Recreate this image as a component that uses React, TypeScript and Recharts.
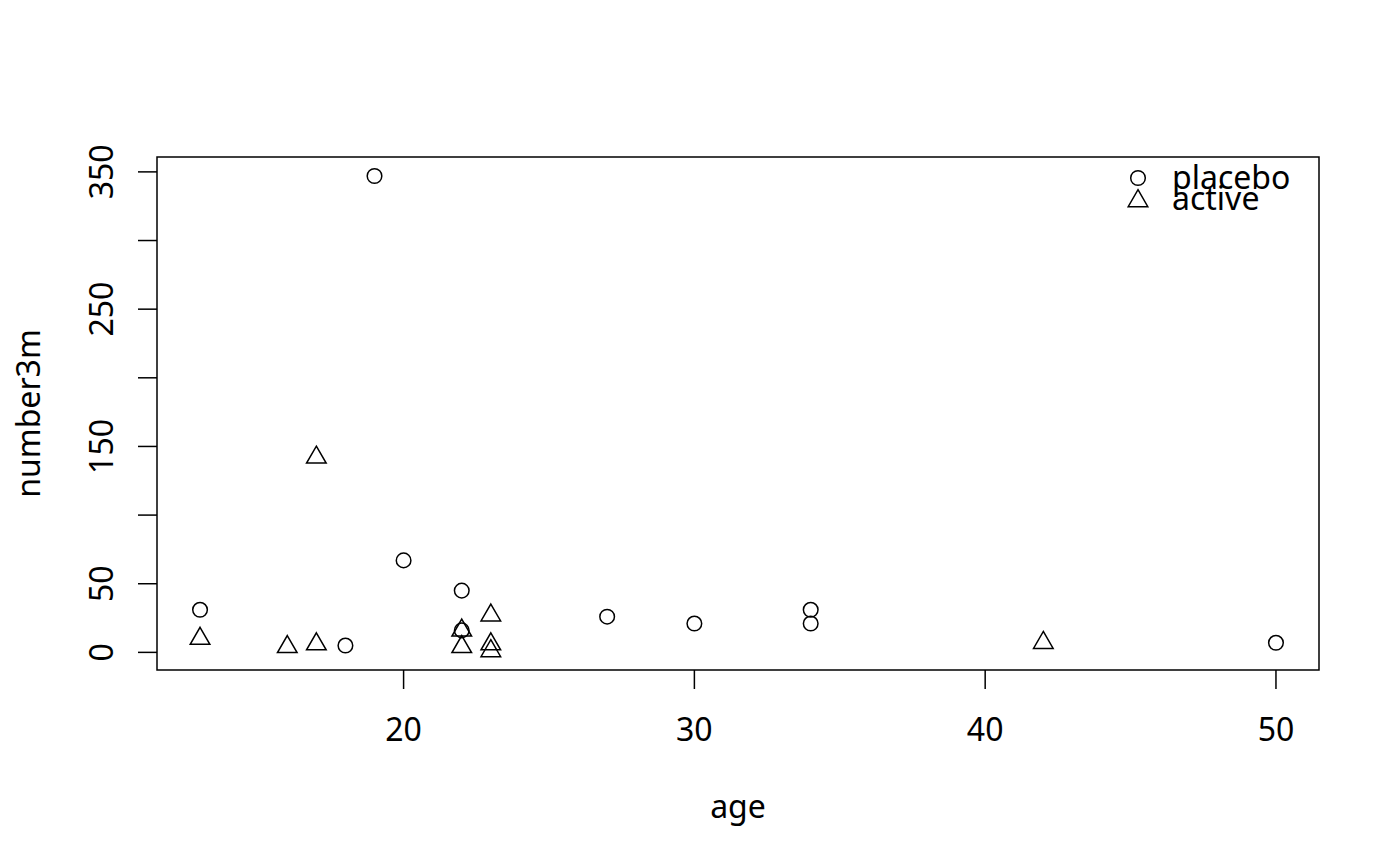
import React from "react";
import { ScatterChart, Scatter, XAxis, YAxis, ReferenceArea, Label } from "recharts";

// values
const placeboAge = [13, 19, 18, 20, 22, 22, 27, 30, 34, 34, 50];
const placeboCount = [31, 347, 5, 67, 45, 16, 26, 21, 31, 21, 7];
const activeAge = [13, 16, 17, 17, 22, 22, 23, 23, 23, 42];
const activeCount = [10, 4, 6, 142, 16, 4, 27, 6, 1, 7];

const seriesNames = ["placebo", "active"];
const xTicks = [20, 30, 40, 50];
const yTicks = [0, 50, 100, 150, 200, 250, 300, 350];
const yLabels = [0, 50, 150, 250, 350];

const placebo = placeboAge.map((age, i) => ({ age, count: placeboCount[i] }));
const active = activeAge.map((age, i) => ({ age, count: activeCount[i] }));

// R pads the data range by 4% on each side
const pad = (lo: number, hi: number): [number, number] => [
  lo - (hi - lo) * 0.04,
  hi + (hi - lo) * 0.04,
];
const xDomain = pad(13, 50);
const yDomain = pad(1, 347);

const FONT = "'Noto Sans', 'Open Sans', sans-serif";
const FS = 32;
const INK = "#000";
const LW = 1.5;

const Circle = (props: any) => {
  const { cx, cy } = props;
  return <circle cx={cx} cy={cy} r={7.3} fill="none" stroke={INK} strokeWidth={LW} />;
};

const Triangle = (props: any) => {
  const { cx, cy } = props;
  const r = 11.3;
  const h = 9.8;
  return (
    <polygon
      points={`${cx},${cy - r} ${cx + h},${cy + r / 2} ${cx - h},${cy + r / 2}`}
      fill="none"
      stroke={INK}
      strokeWidth={LW}
    />
  );
};

const XTick = (props: any) => {
  const { x, y, payload } = props;
  return (
    <text x={x} y={y + 37} textAnchor="middle" dominantBaseline="central" fontFamily={FONT} fontSize={FS} fill={INK}>
      {payload.value}
    </text>
  );
};

const YTick = (props: any) => {
  const { x, y, payload } = props;
  if (!yLabels.includes(payload.value)) return <g />;
  return (
    <text
      transform={`translate(${x - 36}, ${y}) rotate(-90)`}
      textAnchor="middle"
      dominantBaseline="central"
      fontFamily={FONT}
      fontSize={FS}
      fill={INK}
    >
      {payload.value}
    </text>
  );
};

// legend in the top-right corner, like legend("topright", bty = "n")
const LegendBox = () => (
  <svg
    width={200}
    height={60}
    style={{ position: "absolute", left: 1120, top: 160, overflow: "visible" }}
  >
    {seriesNames.map((name, i) => {
      const cy = 18 + i * 21;
      return (
        <g key={name}>
          {i === 0 ? <Circle cx={18} cy={cy} /> : <Triangle cx={18} cy={cy + 2} />}
          <text x={52} y={cy + 11} fontFamily={FONT} fontSize={FS} fill={INK}>
            {name}
          </text>
        </g>
      );
    })}
  </svg>
);

export default function App() {
  return (
    <div style={{ position: "absolute", left: 0, top: 0, width: 1400, height: 866, background: "#fff" }}>
      <ScatterChart width={1400} height={866} margin={{ top: 157, right: 81, bottom: 0, left: 0 }}>
        <XAxis
          type="number"
          dataKey="age"
          domain={xDomain}
          allowDataOverflow
          ticks={xTicks}
          interval={0}
          height={196}
          axisLine={false}
          tickSize={19}
          tickLine={{ stroke: INK, strokeWidth: LW }}
          tick={<XTick />}
        >
          <Label
            content={(p: any) => {
              const vb = p.viewBox;
              return (
                <text x={vb.x + vb.width / 2} y={vb.y + 135} textAnchor="middle" dominantBaseline="central" fontFamily={FONT} fontSize={FS} fill={INK}>
                  age
                </text>
              );
            }}
          />
        </XAxis>
        <YAxis
          type="number"
          dataKey="count"
          domain={yDomain}
          allowDataOverflow
          ticks={yTicks}
          interval={0}
          width={157}
          axisLine={false}
          tickSize={19}
          tickLine={{ stroke: INK, strokeWidth: LW }}
          tick={<YTick />}
        >
          <Label
            content={(p: any) => {
              const vb = p.viewBox;
              return (
                <text
                  transform={`translate(${vb.x + 27}, ${vb.y + vb.height / 2}) rotate(-90)`}
                  textAnchor="middle"
                  dominantBaseline="central"
                  fontFamily={FONT}
                  fontSize={FS}
                  fill={INK}
                >
                  number3m
                </text>
              );
            }}
          />
        </YAxis>
        <ReferenceArea
          x1={xDomain[0]}
          x2={xDomain[1]}
          y1={yDomain[0]}
          y2={yDomain[1]}
          fill="none"
          stroke={INK}
          strokeWidth={LW}
          ifOverflow="visible"
        />
        <Scatter name={seriesNames[0]} data={placebo} shape={<Circle />} fill="none" isAnimationActive={false} />
        <Scatter name={seriesNames[1]} data={active} shape={<Triangle />} fill="none" isAnimationActive={false} />
      </ScatterChart>
      <LegendBox />
    </div>
  );
}
